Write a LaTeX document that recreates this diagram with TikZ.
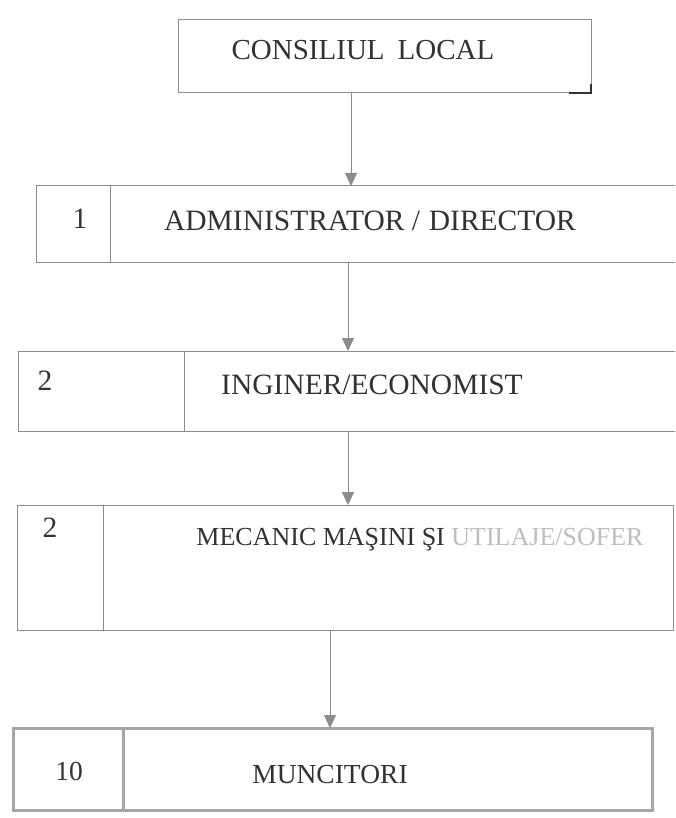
\documentclass[tikz,border=0pt]{standalone}
\usepackage{fontspec}
\setmainfont{Liberation Serif}
\usepackage{tikz}
\usetikzlibrary{positioning,arrows.meta}
\definecolor{rule}{RGB}{140,140,140}
\definecolor{ink}{RGB}{50,50,50}
\definecolor{faded}{RGB}{190,190,190}
\tikzset{
  cell/.style={draw=rule, line width=1pt, inner sep=0pt, outer sep=0pt},
  txt/.style={text=ink, font=\fontsize{29.5}{32}\selectfont, inner sep=0pt},
  arr/.style={draw=rule, line width=1pt, -{Triangle[length=13pt,width=12pt,fill=rule]}}
}

\begin{document}
\begin{tikzpicture}[x=1pt,y=-1pt]
\clip (0,0) rectangle (675,818);
\fill[white] (0,0) rectangle (675,818);
% boxes
\node[cell, minimum width=413pt, minimum height=73pt] (cons) at (384.5,56.5) {};
\node[cell, minimum width=74pt, minimum height=76pt] (n1) at (73,224) {};
\node[cell, minimum width=700pt, minimum height=76pt, right=0pt of n1] (admin) {};
\node[cell, minimum width=166pt, minimum height=80pt] (n2) at (101,391) {};
\node[cell, minimum width=600pt, minimum height=80pt, right=0pt of n2] (eng) {};
\node[cell, minimum width=86pt, minimum height=125pt] (n3) at (60,567.5) {};
\node[cell, minimum width=570pt, minimum height=125pt, right=0pt of n3] (mech) {};
\node[cell, draw=black!35, line width=3pt, minimum width=110pt, minimum height=82pt] (n4) at (68,769) {};
\node[cell, draw=black!35, line width=3pt, minimum width=529pt, minimum height=82pt, right=0pt of n4] (work) {};
\draw[ink, line width=1.6pt] ([xshift=-22pt]cons.south east) -- (cons.south east) -- ([yshift=9pt]cons.south east);
% texts
\node[txt, font=\fontsize{29}{32}\selectfont] (consT) at (363,50) {CONSILIUL\hspace{0.45em}LOCAL};
\node[txt] (n1T) at (80,219) {1};
\node[txt] (adminT) at (370,221) {ADMINISTRATOR /\hspace{0.3em}DIRECTOR};
\node[txt] (n2T) at (45,381) {2};
\node[txt] (engT) at (372,385) {INGINER/ECONOMIST};
\node[txt] (n3T) at (50,528) {2};
\node[txt, font=\fontsize{26}{28}\selectfont] (mechT) at (420,540) {MECANIC MAŞINI ŞI {\color{faded}UTILAJE/SOFER}};
\node[txt, font=\fontsize{27.5}{30}\selectfont] (n4T) at (69,771) {10};
\node[txt, font=\fontsize{27.5}{30}\selectfont] (workT) at (330,775) {MUNCITORI};
% arrows
\path (351,0) coordinate (c1) (348,0) coordinate (c2) (330,0) coordinate (c4);
\draw[arr] (cons.south -| c1) -- (admin.north -| c1);
\draw[arr] (admin.south -| c2) -- (eng.north -| c2);
\draw[arr] (eng.south -| c2) -- (mech.north -| c2);
\draw[arr] (mech.south -| c4) -- (work.north -| c4);
\end{tikzpicture}
\end{document}
